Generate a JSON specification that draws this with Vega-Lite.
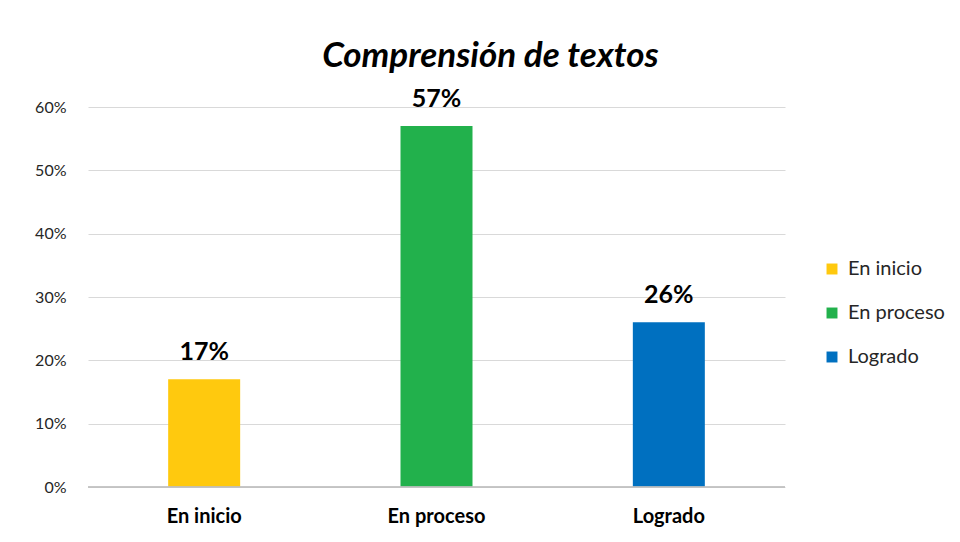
{
  "$schema": "https://vega.github.io/schema/vega-lite/v6.json",
  "autosize": "none",
  "width": 697,
  "height": 380,
  "padding": {"left": 88, "top": 107, "right": 175, "bottom": 55},
  "background": "white",
  "config": {"view": {"stroke": null}, "font": "Lato"},
  "title": {"text": "Comprensión de textos", "font": "Lato", "fontSize": 35, "fontWeight": "bold", "fontStyle": "italic", "color": "#000000", "anchor": "middle", "frame": "group", "dx": 54, "offset": 13},
  "data": {"values": [
    {"categoria": "En inicio", "valor": 0.17},
    {"categoria": "En proceso", "valor": 0.57},
    {"categoria": "Logrado", "valor": 0.26}
  ]},
  "encoding": {
    "x": {"field": "categoria", "type": "nominal", "sort": null,
      "scale": {"paddingInner": 0, "paddingOuter": 0},
      "axis": {"title": null, "labelAngle": 0, "labelFont": "Lato", "labelFontSize": 20, "labelFontWeight": "bold", "labelColor": "#000000", "labelPadding": 19, "ticks": false, "domain": false, "grid": false}},
    "y": {"field": "valor", "type": "quantitative",
      "scale": {"domain": [0, 0.6]},
      "axis": {"title": null, "format": ".0%", "values": [0, 0.1, 0.2, 0.3, 0.4, 0.5, 0.6], "labelFont": "Lato", "labelFontSize": 16, "labelColor": "#262626", "labelPadding": 22, "ticks": false, "domain": false, "gridColor": "#d9d9d9", "gridWidth": 1}}
  },
  "layer": [
    {"mark": {"type": "bar", "size": 72},
      "encoding": {"color": {"field": "categoria", "type": "nominal", "sort": null,
        "scale": {"domain": ["En inicio", "En proceso", "Logrado"], "range": ["#FFC90E", "#22B14C", "#0070C0"]},
        "legend": {"title": null, "orient": "none", "legendX": 734, "legendY": 152, "symbolType": "square", "symbolSize": 120, "symbolStrokeWidth": 0, "labelFont": "Lato", "labelFontSize": 20, "labelColor": "#262626", "rowPadding": 24, "labelOffset": 6}}}},
    {"mark": {"type": "text", "baseline": "bottom", "dy": -14, "font": "Lato", "fontSize": 25, "fontWeight": "bold", "color": "#000000"},
      "encoding": {"text": {"field": "valor", "type": "quantitative", "format": ".0%"}}},
    {"mark": {"type": "rule", "color": "#bfbfbf", "strokeWidth": 1},
      "encoding": {"y": {"datum": 0}, "x": {"value": 0}, "x2": {"value": 697}}}
  ]
}
